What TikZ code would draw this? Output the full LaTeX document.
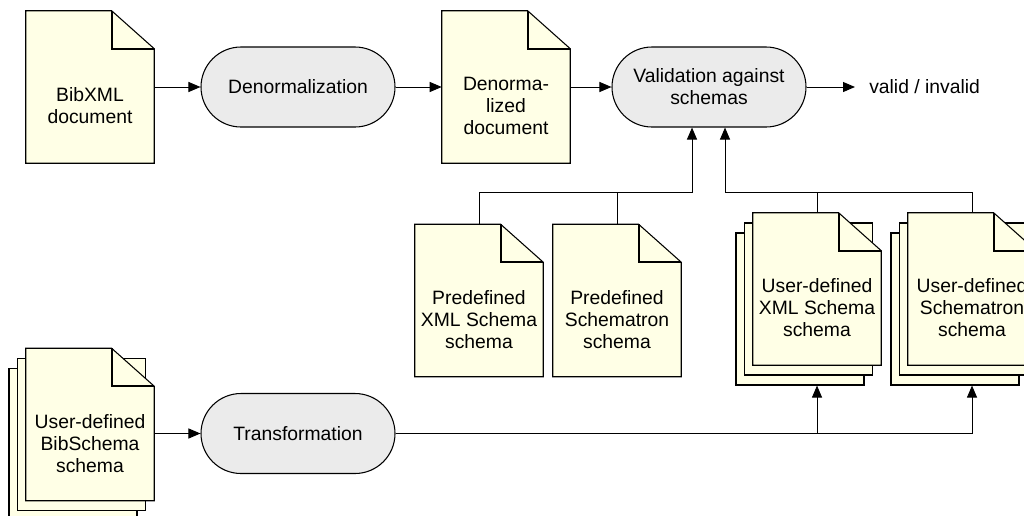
\documentclass[tikz,border=0pt]{standalone}
\usepackage{fontspec}
\setmainfont{Liberation Sans}
\usetikzlibrary{arrows.meta}

\definecolor{docyellow}{HTML}{FFFFE6}
\definecolor{procgray}{HTML}{EBEBEB}

\tikzset{
  labelfont/.style={font=\fontsize{14.5}{16.5}\selectfont},
  pageanchor/.style={draw=none, fill=none, inner sep=0pt, minimum width=96pt, minimum height=114pt},
  backpage/.style={draw=black, fill=docyellow, line width=0.8pt, inner sep=0pt, minimum width=96pt, minimum height=114pt},
  pageline/.style={draw=black, fill=docyellow, line width=0.8pt, line join=miter},
  foldline/.style={draw=black, line width=1.4pt},
  doctext/.style={labelfont, align=center, inner sep=0pt},
  process/.style={draw=black, fill=procgray, line width=0.8pt, rounded corners=30pt,
    minimum width=145.5pt, minimum height=60pt, inner sep=0pt, align=center, labelfont},
  plain/.style={labelfont, inner ysep=0pt, inner xsep=10.5pt},
  link/.style={line width=0.75pt},
  arr/.style={link, -{Triangle[length=9pt,width=7.5pt]}},
}

% dog-eared page drawn on the anchors of an empty node
\newcommand\dogear[1]{%
  \filldraw[pageline] (#1.north west) -- ([xshift=-32pt]#1.north east)
    -- ([yshift=-28.5pt]#1.north east) -- (#1.south east) -- (#1.south west) -- cycle;
  \draw[foldline] ([xshift=-32pt]#1.north east) |- ([yshift=-28.5pt]#1.north east);}

\begin{document}
\begin{tikzpicture}[x=0.75pt,y=-0.75pt]
\useasboundingbox (0,0) rectangle (1024,515);
\clip (0,0) rectangle (1024,515);

% top row
\node[pageanchor] (bib) at (90,87) {};
\dogear{bib}
\node[doctext] (bibt) at ([yshift=-14.25pt]bib.center) {BibXML\\document};

\node[process] (den) at (298,87) {Denormalization};

\node[pageanchor] (dend) at (506,87) {};
\dogear{dend}
\node[doctext] (dendt) at ([yshift=-14.25pt]dend.center) {Denorma-\\lized\\document};

\node[process] (val) at (709,87) {Validation against\\schemas};
\node[plain, anchor=west] (res) at (855,87) {valid / invalid};

% predefined schemas
\node[pageanchor] (pxs) at (479,300.5) {};
\dogear{pxs}
\node[doctext] (pxst) at ([yshift=-14.25pt]pxs.center) {Predefined\\XML Schema\\schema};

\node[pageanchor] (pst) at (617,300.5) {};
\dogear{pst}
\node[doctext] (pstt) at ([yshift=-14.25pt]pst.center) {Predefined\\Schematron\\schema};

% user-defined XML Schema stack
\node[backpage] (ux3) at (800,309) {};
\node[backpage] (ux2) at (808.5,299) {};
\node[pageanchor] (ux) at (817,289) {};
\dogear{ux}
\node[doctext] (uxt) at ([yshift=-14.25pt]ux.center) {User-defined\\XML Schema\\schema};

% user-defined Schematron stack
\node[backpage] (us3) at (955,309) {};
\node[backpage] (us2) at (963.5,299) {};
\node[pageanchor] (us) at (972,289) {};
\dogear{us}
\node[doctext] (ust) at ([yshift=-14.25pt]us.center) {User-defined\\Schematron\\schema};

% user-defined BibSchema stack
\node[backpage] (bs3) at (73,444.5) {};
\node[backpage] (bs2) at (81.5,434.5) {};
\node[pageanchor] (bs) at (90,424.5) {};
\dogear{bs}
\node[doctext] (bst) at ([yshift=-14.25pt]bs.center) {User-defined\\BibSchema\\schema};

\node[process] (tr) at (298,433.5) {Transformation};

% main flow
\draw[arr] (bib.east) -- (den.west);
\draw[arr] (den.east) -- (dend.west);
\draw[arr] (dend.east) -- (val.west);
\draw[arr] (val.east) -- (res.west);

% schemas feeding the validation
\coordinate (busy) at (0,192);
\draw[arr] (pxs.north) -- (pxs.north |- busy) -| ([xshift=-12.75pt]val.south);
\draw[link] (pst.north) -- (pst.north |- busy);
\draw[arr] (us.north) -- (us.north |- busy) -| ([xshift=12pt]val.south);
\draw[link] (ux.north) -- (ux.north |- busy);

% transformation of the BibSchema schema
\draw[arr] (tr.west -| bs.east) -- (tr.west);
\draw[arr] (tr.east) -| (us3.south -| us.south);
\draw[arr] (tr.east -| ux.south) -- (ux3.south -| ux.south);
\end{tikzpicture}
\end{document}
